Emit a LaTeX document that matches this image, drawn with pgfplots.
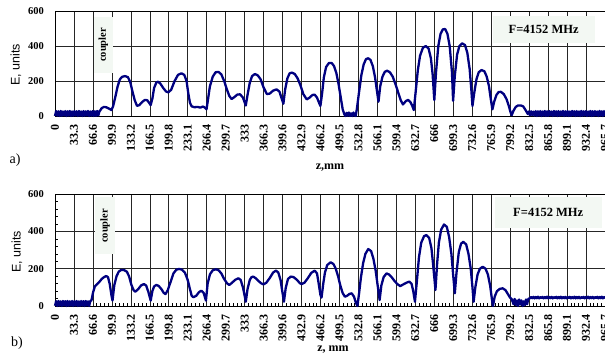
\documentclass[border=0pt]{standalone}
\usepackage{pgfplots}
\pgfplotsset{compat=1.18}
\usepackage{fontspec}
\setmainfont{Liberation Serif}
\newfontfamily\arialfont{Liberation Sans}
\definecolor{curve}{RGB}{0,0,128}
\definecolor{boxfill}{RGB}{243,248,243}
\pgfplotsset{
 panel/.style={
  scale only axis, width=550pt, xmin=0, xmax=965.7, ymin=0, ymax=600,
  xtick={0,33.3,66.6,99.9,133.2,166.5,199.8,233.1,266.4,299.7,333,366.3,399.6,432.9,466.2,499.5,532.8,566.1,599.4,632.7,666,699.3,732.6,765.9,799.2,832.5,865.8,899.1,932.4,965.7},
  xticklabels={0,33.3,66.6,99.9,133.2,166.5,199.8,233.1,266.4,299.7,333,366.3,399.6,432.9,466.2,499.5,532.8,566.1,599.4,632.7,666,699.3,732.6,765.9,799.2,832.5,865.8,899.1,932.4,965.7},
  ytick={0,200,400,600}, yticklabels={0,200,400,600},
  grid=major,
  major grid style={black!85, line width=0.6pt},
  axis line style={black, line width=0.8pt},
  xticklabel style={rotate=90, anchor=east, font=\bfseries\fontsize{12}{12}\selectfont, inner sep=0pt},
  yticklabel style={font=\bfseries\fontsize{10.5}{10.5}\selectfont, inner sep=0pt},
  xticklabel shift=8pt, yticklabel shift=11pt,
  major tick length=0pt,
  xtick pos=left, ytick pos=left,
  tick align=inside,
  no markers, clip=false,
 },
 curvestyle/.style={draw=curve, mark=none, line width=2.3pt, line join=round},
}
\begin{document}
\begin{tikzpicture}
% ---------- panel a ----------
\begin{axis}[panel, at={(55pt,239pt)}, anchor=south west, height=105pt]
\addplot[curvestyle] coordinates {
(0,0)(2,28)(4,2)(6,27)(8,0)(10,29)(12,1)(14,26)(16,3)(18,28)(20,0)(22,27)(24,2)(26,29)(28,0)(30,26)(32,1)(34,28)(36,3)(38,27)(40,0)(42,29)(44,2)(46,26)(48,0)(50,28)(52,1)(54,27)(56,3)(58,29)(60,0)(62,26)(64,2)(66,28)(68,0)(70,27)(72,1)(74,29)(76,3)(78,26)
(79,30)(82,45)(86,52)(90,50)(95,42)(99,34)(102,55)(106,110)(110,170)(114,210)(118,224)(123,228)(128,222)(132,195)(136,140)(140,90)(144,58)(148,62)(153,80)(158,92)(162,90)(166,72)(168,62)(171,100)(174,160)(178,192)(181,196)(185,185)(190,160)(195,140)(199,135)(204,150)(210,200)(216,235)(222,244)(227,235)(231,200)(234,130)(237,75)(240,55)(245,50)(250,52)(255,48)(260,54)(263,48)(266,38)
(268,80)(272,170)(277,225)(282,250)(287,252)(292,238)(297,200)(302,150)(306,115)(310,97)(315,108)(320,122)(325,124)(330,105)(335,60)
(338,120)(342,190)(346,228)(351,240)(356,232)(361,210)(366,165)(372,125)(377,128)(383,145)(389,152)(394,140)(398,100)(401,70)
(404,150)(408,215)(412,244)(416,248)(421,240)(426,215)(431,175)(436,125)(442,95)(447,105)(452,120)(456,122)(460,105)(466,57)
(469,130)(472,220)(476,280)(481,303)(486,302)(490,285)(494,245)(498,180)(502,100)(505,40)(508,10)(510,0)(512,18)(514,2)(516,20)(518,0)(520,15)(522,0)(524,20)(526,5)(528,0)
(530,40)(534,140)(538,235)(542,295)(546,325)(550,330)(554,320)(558,285)(562,220)(565,150)(568,82)
(571,170)(575,225)(579,252)(583,259)(588,250)(593,225)(598,180)(603,130)(607,90)(611,66)(616,85)(620,92)(624,80)(627,60)(630,34)
(633,130)(637,260)(641,345)(646,390)(651,400)(656,385)(660,330)(663,240)(666,91)
(669,250)(673,400)(677,470)(681,495)(685,497)(689,470)(693,400)(697,250)(699,87)
(702,230)(706,350)(710,400)(715,415)(720,405)(724,360)(728,270)(731,150)(733,57)
(736,130)(740,210)(744,250)(749,263)(754,255)(758,225)(762,170)(765,100)(768,38)
(771,80)(775,120)(779,137)(783,138)(788,125)(793,95)(797,55)(800,20)(802,5)
(805,30)(809,52)(813,60)(818,60)(822,55)(826,35)(830,12)
(832,26)(834,3)(836,27)(838,5)(840,25)(842,2)(844,28)(846,0)(848,27)(850,2)(852,28)(854,0)(856,26)(858,2)(860,29)(862,0)(864,27)(866,1)(868,28)(870,3)(872,26)(874,0)(876,29)(878,2)(880,27)(882,0)(884,28)(886,1)(888,26)(890,3)(892,29)(894,0)(896,27)(898,2)(900,28)(902,0)(904,26)(906,1)(908,29)(910,3)(912,27)(914,0)(916,28)(918,2)(920,26)(922,0)(924,29)(926,1)(928,27)(930,3)(932,28)(934,0)(936,26)(938,2)(940,29)(942,0)(944,27)(946,1)(948,28)(950,3)(952,26)(954,0)(956,29)(958,2)(960,27)(962,0)(964,28)(966,2)
};
\node[fill=boxfill, rotate=90, minimum width=56pt, minimum height=19pt, inner sep=0pt, font=\bfseries\fontsize{10.5}{10.5}\selectfont] at (axis cs:85,406) {coupler};
\node[fill=boxfill, minimum width=102pt, minimum height=27pt, inner sep=0pt, font=\bfseries\fontsize{12.5}{12.5}\selectfont] at (axis cs:858,494) {F=4152 MHz};
\end{axis}
% ---------- panel b ----------
\begin{axis}[panel, at={(55pt,49pt)}, anchor=south west, height=111.7pt,
  minor x tick num=4, minor y tick num=4, minor tick length=3pt,
  minor tick style={black, line width=0.6pt}]
\addplot[curvestyle] coordinates {
(0,1)(2,26)(4,0)(6,27)(8,2)(10,25)(12,0)(14,27)(16,3)(18,26)(20,0)(22,27)(24,1)(26,25)(28,2)(30,27)(32,0)(34,26)(36,3)(38,27)(40,0)(42,25)(44,1)(46,27)(48,2)(50,26)(52,0)(54,27)(56,3)(58,25)(60,0)(62,27)(64,30)
(67,75)(70,105)(74,118)(78,130)(82,145)(86,155)(90,161)(93,155)(96,120)(99,60)(101,29)
(104,110)(108,160)(112,185)(116,193)(121,193)(126,185)(130,160)(134,115)(138,85)(141,77)(146,90)(151,110)(156,118)(160,110)(164,75)(168,29)
(171,80)(174,105)(178,113)(182,108)(187,90)(191,70)(194,64)(198,85)(203,130)(208,175)(213,195)(218,199)(223,195)(228,180)(233,140)(237,90)(240,55)(243,47)(248,55)(253,75)(257,82)(261,70)(265,29)
(268,120)(272,170)(277,192)(282,197)(287,193)(292,175)(297,145)(302,122)(306,113)(311,125)(316,140)(322,149)(326,140)(330,100)(333,55)(335,23)
(338,90)(342,140)(345,155)(348,158)(352,150)(357,135)(362,122)(366,116)(371,125)(377,150)(383,180)(388,190)(392,180)(396,140)(399,80)(402,23)
(405,95)(409,145)(414,158)(419,155)(425,140)(430,122)(433,118)(438,125)(444,150)(450,178)(456,190)(460,175)(463,120)(466,60)(468,45)
(471,120)(474,180)(478,220)(484,235)(489,225)(493,200)(497,160)(501,110)(505,70)(509,50)(513,55)(517,65)(521,68)(525,50)(528,20)(531,0)
(534,70)(537,150)(541,230)(545,280)(550,306)(555,295)(559,255)(563,190)(567,100)(570,32)
(573,110)(577,155)(582,175)(586,170)(591,155)(596,135)(601,118)(606,107)(611,115)(617,125)(622,131)(626,120)(629,80)(632,23)
(635,120)(639,260)(643,340)(648,375)(652,381)(657,365)(661,310)(664,220)(668,86)
(671,230)(674,340)(678,410)(683,438)(688,425)(692,370)(696,280)(699,170)(702,68)
(705,180)(709,290)(713,335)(717,345)(722,330)(726,280)(730,200)(733,100)(735,23)
(738,100)(742,170)(746,200)(751,211)(756,200)(760,170)(764,110)(767,40)(769,0)
(772,50)(776,80)(781,92)(786,95)(791,85)(795,65)(799,45)(802,36)
(805,10)(807,38)(809,5)(811,30)(813,0)(815,35)(817,8)(819,30)(821,0)(823,25)(825,5)(827,35)(829,10)(831,38)
(834,42)(836,48)(838,42)(840,49)(842,41)(844,48)(846,42)(848,50)(850,41)(852,48)(854,43)(856,49)(858,41)(860,48)(862,42)(864,50)(866,41)(868,48)(870,42)(872,49)(874,41)(876,48)(878,43)(880,49)(882,41)(884,48)(886,42)(888,50)(890,41)(892,48)(894,42)(896,49)(898,41)(900,48)(902,43)(904,49)(906,41)(908,48)(910,42)(912,50)(914,41)(916,48)(918,42)(920,49)(922,41)(924,48)(926,43)(928,49)(930,41)(932,48)(934,42)(936,50)(938,41)(940,48)(942,42)(944,49)(946,41)(948,48)(950,43)(952,49)(954,41)(956,48)(958,42)(960,50)(962,41)(964,48)(966,42)
};
\node[fill=boxfill, rotate=90, minimum width=57pt, minimum height=20pt, inner sep=0pt, font=\bfseries\fontsize{10.5}{10.5}\selectfont] at (axis cs:88,430) {coupler};
\node[fill=boxfill, minimum width=107pt, minimum height=31pt, inner sep=0pt, font=\bfseries\fontsize{12.5}{12.5}\selectfont] at (axis cs:866,502) {F=4152 MHz};
\end{axis}
% ---------- outer labels ----------
\node[font=\arialfont\fontsize{12.5}{12.5}\selectfont, rotate=90] at (16pt,290pt) {E, units};
\node[font=\arialfont\fontsize{12.5}{12.5}\selectfont, rotate=90] at (17pt,103pt) {E, units};
\node[font=\bfseries\fontsize{12}{12}\selectfont] at (330pt,187pt) {z,mm};
\node[font=\bfseries\fontsize{12}{12}\selectfont] at (333pt,5pt) {z, mm};
\node[font=\fontsize{14}{14}\selectfont] at (15pt,195pt) {a)};
\node[font=\fontsize{14}{14}\selectfont] at (17pt,12pt) {b)};
\pgfresetboundingbox
\path (0pt,0pt) rectangle (605pt,355pt);
\end{tikzpicture}
\end{document}
